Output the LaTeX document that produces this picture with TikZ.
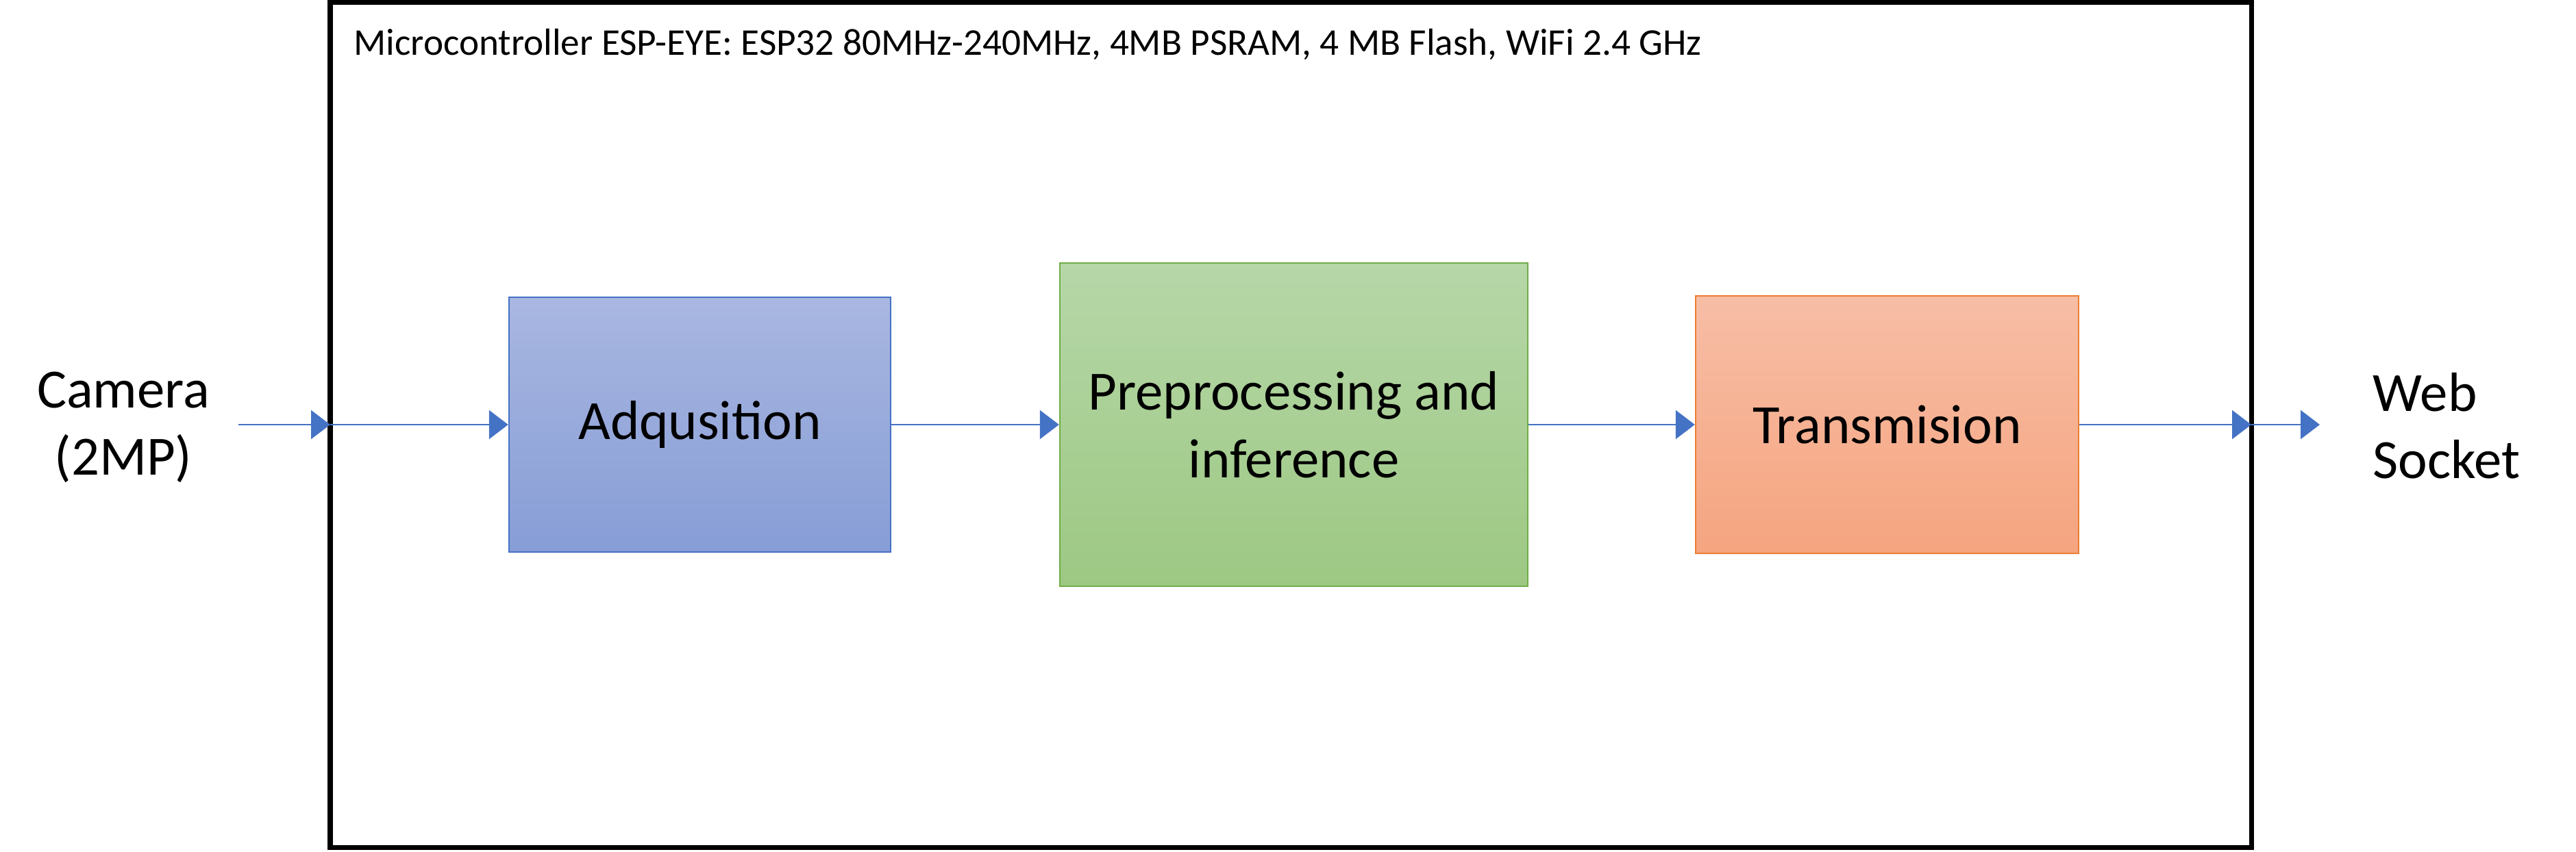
\documentclass[tikz,border=0pt]{standalone}
\usepackage{fontspec}
\setmainfont{Carlito}
\usepackage{tikz}
\usetikzlibrary{arrows.meta,positioning}

\definecolor{arrowblue}{HTML}{4472C4}
\definecolor{blueedge}{HTML}{4472C4}
\definecolor{bluetop}{HTML}{A9B7E1}
\definecolor{bluebot}{HTML}{879DD6}
\definecolor{greenedge}{HTML}{70AD47}
\definecolor{greentop}{HTML}{B6D7A8}
\definecolor{greenbot}{HTML}{9DC883}
\definecolor{orangeedge}{HTML}{ED7D31}
\definecolor{orangetop}{HTML}{F7BEA6}
\definecolor{orangebot}{HTML}{F5A47F}

\begin{document}
\begin{tikzpicture}[
	block/.style={draw, line width=0.7pt, align=center, inner sep=0pt,
		font=\fontsize{23}{28}\selectfont},
	flow/.style={draw=arrowblue, line width=0.8pt,
		-{Triangle[length=0.28cm, width=0.42cm]}},
	label/.style={align=center, inner sep=0pt, font=\fontsize{23}{28}\selectfont}
]
	\useasboundingbox (0,0) rectangle (37.6,-12.43);

	% board outline
	\draw [line width=2pt] (4.82,-0.035) rectangle (32.86,-12.37);
	\node [anchor=west, inner sep=0pt, font=\fontsize{15.7}{19}\selectfont]
		(board) at (5.16,-0.65) {Microcontroller ESP-EYE: ESP32 80MHz-240MHz, 4MB PSRAM, 4 MB Flash, WiFi 2.4 GHz};

	% blocks
	\node [block, draw=blueedge, top color=bluetop, bottom color=bluebot,
		minimum width=5.57cm, minimum height=3.72cm] (acq) at (10.215,-6.20) {Adqusition};
	\node [block, draw=greenedge, top color=greentop, bottom color=greenbot,
		minimum width=6.83cm, minimum height=4.72cm] (pre) at (18.885,-6.20) {Preprocessing and\\inference};
	\node [block, draw=orangeedge, top color=orangetop, bottom color=orangebot,
		minimum width=5.59cm, minimum height=3.76cm] (tx) at (27.545,-6.20) {Transmision};

	% input and output
	\node [label] (cam) at (1.80,-6.24) {Camera\\(2MP)};
	\node [label, align=left, anchor=west] (ws) at (34.63,-6.22) {Web\\Socket};

	\coordinate (camout) at (3.48,-6.20);
	\coordinate (boardin) at (4.82,-6.20);
	\coordinate (boardout) at (32.86,-6.20);
	\coordinate (wsin) at (33.86,-6.20);

	\draw [flow] (camout) -- (boardin);
	\draw [flow] (boardin) -- (acq.west);
	\draw [flow] (acq.east) -- (pre.west);
	\draw [flow] (pre.east) -- (tx.west);
	\draw [flow] (tx.east) -- (boardout);
	\draw [flow] (boardout) -- (wsin);
\end{tikzpicture}
\end{document}
